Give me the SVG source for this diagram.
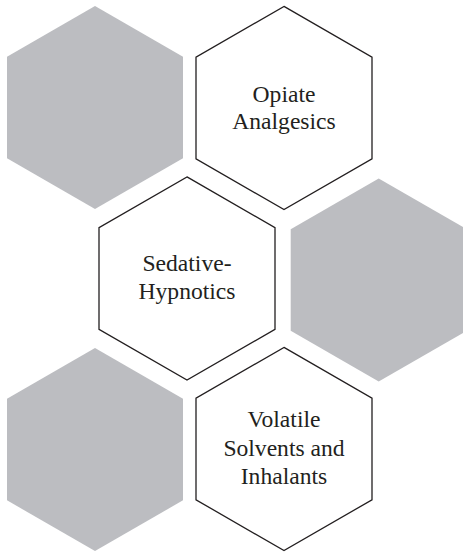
<svg xmlns="http://www.w3.org/2000/svg" xmlns:xlink="http://www.w3.org/1999/xlink" width="463" height="552" viewBox="0 0 463 552">
<style>
.g{fill:#bcbdc1;stroke:none}
.w{fill:#ffffff;stroke:#231f20;stroke-width:1.3;stroke-linejoin:miter}
.t{font-family:"Liberation Serif","Times New Roman",serif;font-size:23.6px;fill:#231f20;text-anchor:middle}
</style>
<defs>
<polygon id="hex" points="0,-101.6 88,-50.8 88,50.8 0,101.6 -88,50.8 -88,-50.8"/>
</defs>
<rect width="463" height="552" fill="#ffffff"/>
<g id="hex-gray-1"><use xlink:href="#hex" href="#hex" class="g" transform="translate(95,107.5)"/></g>
<g id="opiate-analgesics">
<use xlink:href="#hex" href="#hex" class="w" transform="translate(284,108)"/>
<text class="t" x="284" y="101.5">Opiate</text>
<text class="t" x="284" y="129">Analgesics</text>
</g>
<g id="sedative-hypnotics">
<use xlink:href="#hex" href="#hex" class="w" transform="translate(187,278.5)"/>
<text class="t" x="187" y="271">Sedative-</text>
<text class="t" x="187" y="299">Hypnotics</text>
</g>
<g id="hex-gray-2"><use xlink:href="#hex" href="#hex" class="g" transform="translate(378.7,280)"/></g>
<g id="hex-gray-3"><use xlink:href="#hex" href="#hex" class="g" transform="translate(95,449.5)"/></g>
<g id="volatile-solvents">
<use xlink:href="#hex" href="#hex" class="w" transform="translate(284,449)"/>
<text class="t" x="284" y="427">Volatile</text>
<text class="t" x="284" y="455.5">Solvents and</text>
<text class="t" x="284" y="484">Inhalants</text>
</g>
<g id="connectors"/>
</svg>
